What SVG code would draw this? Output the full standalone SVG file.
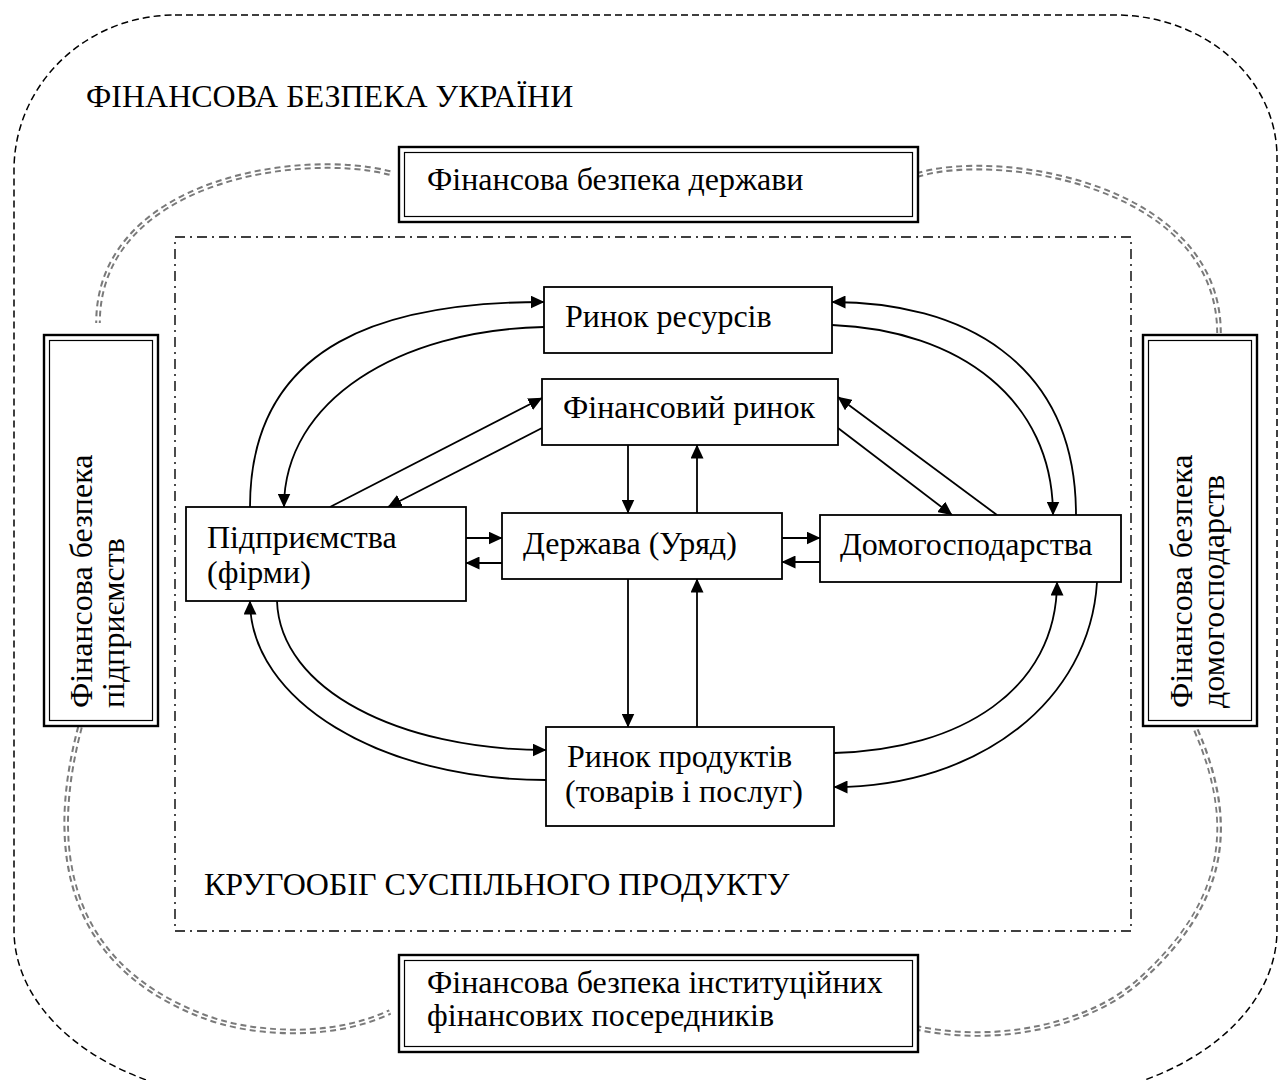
<svg xmlns="http://www.w3.org/2000/svg" width="1279" height="1080" viewBox="0 0 1279 1080">
  <defs>
    <style>
      .t { font-family: "Liberation Serif", "Times New Roman", serif; font-size: 32px; fill: #000; }
      .box { fill: #fff; stroke: #000; stroke-width: 1.8; }
      .dbl-out { fill: #fff; stroke: #000; stroke-width: 2.4; }
      .dbl-in { fill: none; stroke: #000; stroke-width: 1.2; }
      .flow { fill: none; stroke: #000; stroke-width: 1.8; marker-end: url(#ah); }
      .frame { fill: none; stroke: #000; stroke-width: 1.5; stroke-dasharray: 7 4; }
      .cycle { fill: none; stroke: #000; stroke-width: 1.4; stroke-dasharray: 10 5 2 5; }
      .link-g { fill: none; stroke: #7a7a7a; stroke-width: 5.6; stroke-dasharray: 6 4; }
      .link-w { fill: none; stroke: #fff; stroke-width: 1.6; }
    </style>
    <marker id="ah" viewBox="0 0 14 13" refX="13.5" refY="6.5" markerWidth="14" markerHeight="13" markerUnits="userSpaceOnUse" orient="auto">
      <path d="M0,0 L14,6.5 L0,13 z" fill="#000"/>
    </marker>
  </defs>

  <rect width="1279" height="1080" fill="#fff"/>

  <!-- outer frame: financial security of Ukraine -->
  <g id="frame-ukraine">
    <path class="frame" d="M175,15 H1115 A162,142 0 0 1 1277,157 V930 A250,170 0 0 1 1027,1100 H264 A250,170 0 0 1 14,930 V170 A161,155 0 0 1 175,15 Z"/>
    <text class="t" x="86" y="107">ФІНАНСОВА БЕЗПЕКА УКРАЇНИ</text>
  </g>

  <!-- inner frame: circular flow -->
  <g id="frame-cycle">
    <rect class="cycle" x="175" y="237" width="956" height="694"/>
    <text class="t" x="204" y="895">КРУГООБІГ СУСПІЛЬНОГО ПРОДУКТУ</text>
  </g>

  <!-- connectors -->
  <g id="connectors">
    <!-- double grey dashed ring joining the security boxes -->
    <g id="ring">
      <path class="link-g" d="M390,173 C300,150 98,180 98,323"/>
      <path class="link-g" d="M917,175 C1000,150 1219,185 1219,333"/>
      <path class="link-g" d="M80,727 C50,840 60,960 200,1015 C250,1035 330,1040 390,1012"/>
      <path class="link-g" d="M1196,730 C1235,820 1230,900 1140,980 C1090,1025 1000,1045 917,1028"/>
      <path class="link-w" d="M390,173 C300,150 98,180 98,323"/>
      <path class="link-w" d="M917,175 C1000,150 1219,185 1219,333"/>
      <path class="link-w" d="M80,727 C50,840 60,960 200,1015 C250,1035 330,1040 390,1012"/>
      <path class="link-w" d="M1196,730 C1235,820 1230,900 1140,980 C1090,1025 1000,1045 917,1028"/>
    </g>

    <!-- firms <-> resource market -->
    <path class="flow" d="M250,507 C250,340 390,302 544,302"/>
    <path class="flow" d="M544,327 C400,330 284,400 284,507"/>
    <!-- households <-> resource market -->
    <path class="flow" d="M1076,515 C1076,360 960,302 832,302"/>
    <path class="flow" d="M832,325 C960,330 1053,400 1053,515"/>
    <!-- firms <-> product market -->
    <path class="flow" d="M546,780 C380,780 250,700 250,601"/>
    <path class="flow" d="M277,601 C280,690 400,750 546,750"/>
    <!-- households <-> product market -->
    <path class="flow" d="M834,753 C960,750 1057,690 1057,582"/>
    <path class="flow" d="M1097,582 C1090,700 980,787 834,787"/>

    <!-- financial market links -->
    <path class="flow" d="M330,507 L542,398"/>
    <path class="flow" d="M542,428 L388,507"/>
    <path class="flow" d="M997,515 L838,397"/>
    <path class="flow" d="M838,428 L952,515"/>

    <!-- government links -->
    <path class="flow" d="M628,445 V513"/>
    <path class="flow" d="M697,513 V445"/>
    <path class="flow" d="M628,579 V727"/>
    <path class="flow" d="M697,727 V579"/>
    <path class="flow" d="M466,538 H502"/>
    <path class="flow" d="M502,563 H466"/>
    <path class="flow" d="M782,538 H820"/>
    <path class="flow" d="M820,562 H782"/>
  </g>

  <!-- security boxes -->
  <g id="sec-state">
    <rect class="dbl-out" x="399" y="147" width="519" height="75"/>
    <rect class="dbl-in" x="404.5" y="152.5" width="508" height="64"/>
    <text class="t" x="427" y="190">Фінансова безпека держави</text>
  </g>
  <g id="sec-intermediaries">
    <rect class="dbl-out" x="399" y="955" width="519" height="97"/>
    <rect class="dbl-in" x="404.5" y="960.5" width="508" height="86"/>
    <text class="t" x="427" y="993">Фінансова безпека інституційних</text>
    <text class="t" x="427" y="1026">фінансових посередників</text>
  </g>
  <g id="sec-firms">
    <rect class="dbl-out" x="44" y="335" width="114" height="391"/>
    <rect class="dbl-in" x="49.5" y="340.5" width="103" height="380"/>
    <text class="t" transform="translate(92,708) rotate(-90)">
      <tspan x="0" y="0">Фінансова безпека</tspan>
      <tspan x="0" y="32">підприємств</tspan>
    </text>
  </g>
  <g id="sec-households">
    <rect class="dbl-out" x="1143" y="335" width="114" height="391"/>
    <rect class="dbl-in" x="1148.5" y="340.5" width="103" height="380"/>
    <text class="t" transform="translate(1192,708) rotate(-90)">
      <tspan x="0" y="0">Фінансова безпека</tspan>
      <tspan x="0" y="32">домогосподарств</tspan>
    </text>
  </g>

  <!-- economic agents and markets -->
  <g id="resource-market">
    <rect class="box" x="544" y="287" width="288" height="66"/>
    <text class="t" x="565" y="327">Ринок ресурсів</text>
  </g>
  <g id="financial-market">
    <rect class="box" x="542" y="379" width="296" height="66"/>
    <text class="t" x="563" y="418">Фінансовий ринок</text>
  </g>
  <g id="government">
    <rect class="box" x="502" y="513" width="280" height="66"/>
    <text class="t" x="523" y="554">Держава (Уряд)</text>
  </g>
  <g id="firms">
    <rect class="box" x="186" y="507" width="280" height="94"/>
    <text class="t" x="207" y="548">Підприємства</text>
    <text class="t" x="207" y="583">(фірми)</text>
  </g>
  <g id="households">
    <rect class="box" x="820" y="515" width="301" height="67"/>
    <text class="t" x="840" y="555">Домогосподарства</text>
  </g>
  <g id="product-market">
    <rect class="box" x="546" y="727" width="288" height="99"/>
    <text class="t" x="567" y="767">Ринок продуктів</text>
    <text class="t" x="565" y="802">(товарів і послуг)</text>
  </g>
</svg>
